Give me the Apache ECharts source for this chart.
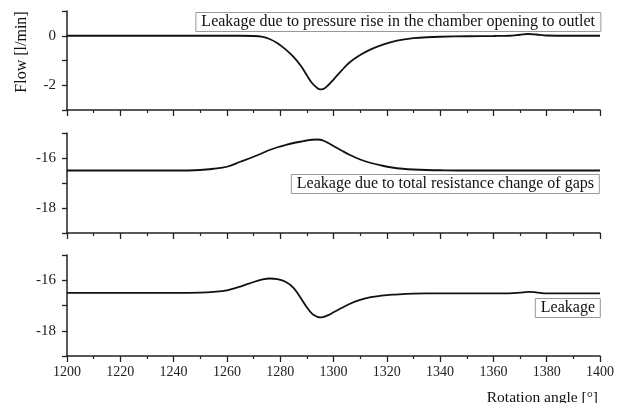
<!DOCTYPE html>
<html>
<head>
<meta charset="utf-8">
<script src="https://cdn.jsdelivr.net/npm/echarts@6/dist/echarts.min.js"></script>
<style>html,body{margin:0;padding:0;background:#fff}#c{width:628px;height:403px}</style>
</head>
<body>
<div id="c"></div>
<script>
// Rotation angle [°]
var angles = [1200,1210,1220,1230,1240,1250,1255,1260,1265,1270,1273,1276,1279,1282,1285,1288,1290,1292,1294,1295,1296,1298,1300,1303,1306,1310,1314,1318,1322,1326,1330,1335,1340,1350,1360,1366,1370,1373,1376,1380,1390,1400];
// Leakage due to pressure rise in the chamber opening to outlet
var pressureRise = [0,0,0,0,0,0,0,0,0,-0.01,-0.04,-0.13,-0.3,-0.55,-0.85,-1.25,-1.6,-1.92,-2.12,-2.17,-2.16,-2.0,-1.77,-1.41,-1.08,-0.78,-0.55,-0.38,-0.25,-0.16,-0.1,-0.06,-0.04,-0.02,-0.01,0,0.04,0.07,0.05,0.01,0,0];
// Leakage due to total resistance change of gaps
var resistance = [-16.5,-16.5,-16.5,-16.5,-16.5,-16.48,-16.43,-16.35,-16.15,-15.95,-15.82,-15.68,-15.57,-15.48,-15.4,-15.34,-15.3,-15.27,-15.26,-15.27,-15.3,-15.4,-15.52,-15.7,-15.87,-16.06,-16.2,-16.3,-16.38,-16.43,-16.46,-16.48,-16.49,-16.5,-16.5,-16.5,-16.5,-16.5,-16.5,-16.5,-16.5,-16.5];
// Leakage
var leakage = [-16.5,-16.5,-16.5,-16.5,-16.5,-16.49,-16.46,-16.4,-16.25,-16.07,-15.98,-15.93,-15.96,-16.06,-16.3,-16.75,-17.07,-17.33,-17.45,-17.47,-17.46,-17.38,-17.27,-17.1,-16.94,-16.78,-16.67,-16.61,-16.57,-16.55,-16.53,-16.52,-16.52,-16.52,-16.52,-16.52,-16.49,-16.46,-16.48,-16.52,-16.52,-16.52];

var panelNames = ['Leakage due to pressure rise in the chamber opening to outlet','Leakage due to total resistance change of gaps','Leakage'];
var yRanges = [[-3,1],[-19,-15],[-19,-15]];
var xTitle = 'Rotation angle [°]';
var yTitle = 'Flow [l/min]';

function pairs(ys){ return angles.map(function(a,i){ return [a, ys[i]]; }); }

var FONT = '"Liberation Serif", "Times New Roman", serif';
var AX = '#222';
var grids = [
  {left:67, width:533, top:11, height:99},
  {left:67, width:533, top:133, height:100},
  {left:67, width:533, top:255, height:101}
];
var xAxes = grids.map(function(g,i){
  return {
    type:'value', gridIndex:i, min:1200, max:1400, interval:20,
    axisLine:{show:true, onZero:false, lineStyle:{color:AX, width:1.5}},
    axisTick:{show:true, length:6, lineStyle:{color:AX, width:1.3}},
    minorTick:{show:true, splitNumber:2, length:3, lineStyle:{color:AX, width:1.2}},
    splitLine:{show:false},
    axisLabel:{show:i===2, margin:9, color:'#222', fontFamily:FONT, fontSize:14,
      formatter:function(v){ return String(v); }}
  };
});
var yAxes = grids.map(function(g,i){
  return {
    type:'value', gridIndex:i, min:yRanges[i][0], max:yRanges[i][1], interval:1,
    axisLine:{show:true, lineStyle:{color:AX, width:1.5}},
    axisTick:{show:true, length:5, lineStyle:{color:AX, width:1.3}},
    splitLine:{show:false},
    axisLabel:{margin:11, color:'#222', fontFamily:FONT, fontSize:15,
      formatter:function(v){ return (Math.round(v) % 2 === 0) ? String(v) : ''; }}
  };
});
var seriesData = [pressureRise, resistance, leakage];
var series = seriesData.map(function(d,i){
  return {type:'line', xAxisIndex:i, yAxisIndex:i, data:pairs(d), showSymbol:false, smooth:0.35,
    lineStyle:{color:'#111', width:1.8}, animation:false};
});
var boxPos = [
  {right:27, top:12},
  {right:28, top:174},
  {right:27, top:298}
];
var titles = panelNames.map(function(n,i){
  return {text:n, right:boxPos[i].right, top:boxPos[i].top, padding:[2,6,2,6],
    borderColor:'#999', borderWidth:1, backgroundColor:'#fff',
    textStyle:{fontFamily:FONT, fontSize:16, fontWeight:'normal', color:'#111'}};
});

var chart = echarts.init(document.getElementById('c'));
chart.setOption({
  backgroundColor:'#fff',
  animation:false,
  title:titles,
  grid:grids, xAxis:xAxes, yAxis:yAxes, series:series,
  graphic:[
    {type:'text', x:22, y:52, rotation:Math.PI/2, style:{text:yTitle, font:'16px ' + FONT, fill:'#111', textAlign:'center', textVerticalAlign:'middle'}},
    {type:'text', x:598, y:398, style:{text:xTitle, font:'15.5px ' + FONT, fill:'#111', textAlign:'right', textVerticalAlign:'middle'}}
  ]
});
</script>
</body>
</html>
